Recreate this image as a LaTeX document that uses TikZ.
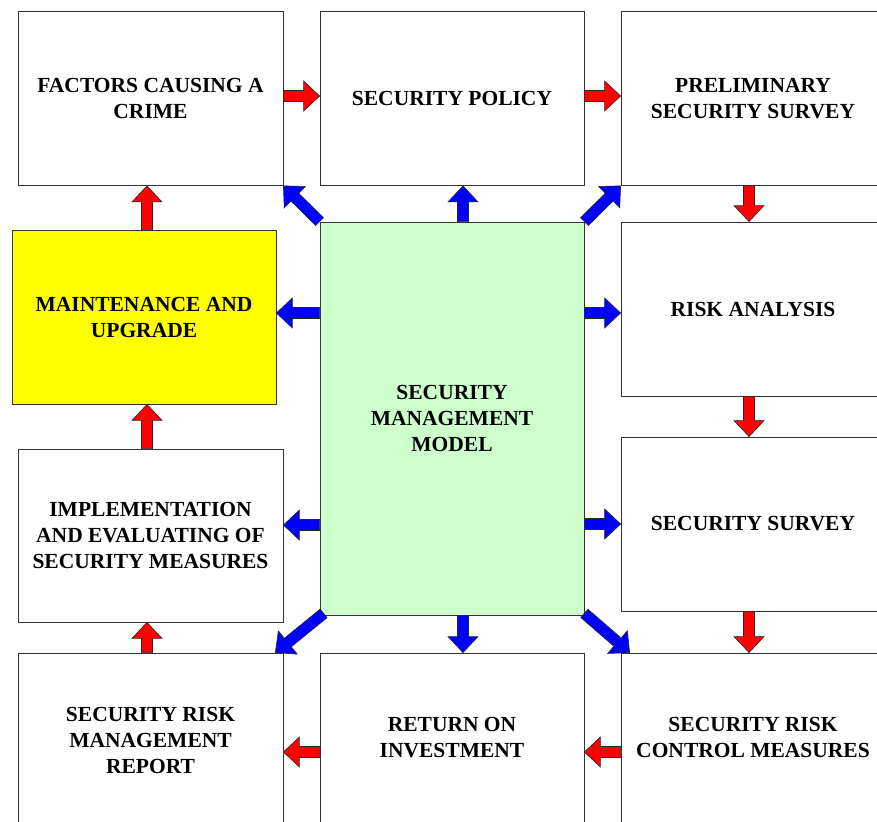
\documentclass[tikz,border=0pt]{standalone}
\usepackage{fontspec}
\setmainfont{Liberation Serif}
\usetikzlibrary{calc}

\definecolor{modelgreen}{HTML}{CCFFCC}
\definecolor{maintyellow}{HTML}{FFFF00}
\definecolor{flowred}{HTML}{FF0000}
\definecolor{linkblue}{HTML}{0000FF}

\tikzset{
  stage/.style={draw=black!80, line width=0.8pt, fill=white, rectangle,
    minimum width=265pt, minimum height=174pt, inner sep=0pt, align=center,
    font=\fontsize{21.5}{26}\selectfont\bfseries},
  blockedge/.style={draw=black!85, line width=0.6pt, line join=miter},
}

% block arrow from coordinate #1 to coordinate #2, filled with #3
\newcommand\blockarrow[3]{%
  \coordinate (ba-h) at ($(#2)!16pt!(#1)$);
  \draw[blockedge, fill=#3]
    ($(#1)!5.5pt!90:(#2)$) -- ($(ba-h)!5.5pt!90:(#2)$) -- ($(ba-h)!15pt!90:(#2)$)
    -- (#2) -- ($(ba-h)!15pt!-90:(#2)$) -- ($(ba-h)!5.5pt!-90:(#2)$)
    -- ($(#1)!5.5pt!-90:(#2)$) -- cycle;
}

\begin{document}
\begin{tikzpicture}[x=1pt, y=1pt]
\useasboundingbox (0,0) rectangle (877,-821);
\clip (0,0) rectangle (877,-821);

% stages
\node[stage] (factors) at (150.5,-98.5) {FACTORS CAUSING A\\CRIME};
\node[stage, minimum width=264pt] (policy) at (452,-98.5) {SECURITY POLICY};
\node[stage, minimum width=264pt] (prelim) at (753,-98.5) {PRELIMINARY\\SECURITY SURVEY};
\node[stage, minimum width=264pt, fill=maintyellow] (maint) at (144,-317) {MAINTENANCE AND\\UPGRADE};
\node[stage, minimum width=264pt, minimum height=393pt, fill=modelgreen] (center) at (452,-418.5) {SECURITY\\MANAGEMENT\\MODEL};
\node[stage, minimum width=264pt] (risk) at (753,-309) {RISK ANALYSIS};
\node[stage, minimum height=173pt] (impl) at (150.5,-535.5) {IMPLEMENTATION\\AND EVALUATING OF\\SECURITY MEASURES};
\node[stage, minimum width=264pt] (survey) at (753,-524) {SECURITY SURVEY};
\node[stage] (report) at (150.5,-740) {SECURITY RISK\\MANAGEMENT\\REPORT};
\node[stage, minimum width=264pt, text depth=5pt] (roi) at (452,-740) {RETURN ON\\INVESTMENT};
\node[stage, minimum width=264pt, text depth=5pt] (control) at (753,-740) {SECURITY RISK\\CONTROL MEASURES};

% end points of the process flow
\coordinate (r1a) at ($(factors.east)+(0,2.5)$); \coordinate (r1b) at (r1a -| policy.west);
\coordinate (r2a) at ($(policy.east)+(0,2.5)$);  \coordinate (r2b) at (r2a -| prelim.west);
\coordinate (r3a) at ($(prelim.south)+(-4,0)$);  \coordinate (r3b) at (r3a |- risk.north);
\coordinate (r4a) at ($(risk.south)+(-4,0)$);    \coordinate (r4b) at (r4a |- survey.north);
\coordinate (r5a) at ($(survey.south)+(-4,0)$);  \coordinate (r5b) at (r5a |- control.north);
\coordinate (r6a) at ($(control.west)+(0,-12)$); \coordinate (r6b) at (r6a -| roi.east);
\coordinate (r7a) at ($(roi.west)+(0,-12)$);     \coordinate (r7b) at (r7a -| report.east);
\coordinate (r8a) at ($(report.north)+(-3.5,0)$); \coordinate (r8b) at (r8a |- impl.south);
\coordinate (r9a) at ($(impl.north)+(-3.5,0)$);  \coordinate (r9b) at (r9a |- maint.south);
\coordinate (r10a) at ($(maint.north)+(3,0)$);   \coordinate (r10b) at (r10a |- factors.south);

% end points of the links from the model
\coordinate (b1a) at ($(center.north)+(11,0)$);  \coordinate (b1b) at (b1a |- policy.south);
\coordinate (b2a) at ($(center.south)+(11,0)$);  \coordinate (b2b) at (b2a |- roi.north);
\coordinate (b3b) at ($(maint.east)+(0,4)$);     \coordinate (b3a) at (b3b -| center.west);
\coordinate (b4b) at ($(risk.west)+(0,-4)$);     \coordinate (b4a) at (b4b -| center.east);
\coordinate (b5b) at ($(impl.east)+(0,10.5)$);   \coordinate (b5a) at (b5b -| center.west);
\coordinate (b6b) at (survey.west);              \coordinate (b6a) at (b6b -| center.east);
\coordinate (b9a) at ($(center.south west)+(4,2)$);
\coordinate (b9b) at ($(report.north east)+(-8,0)$);
\coordinate (b10a) at ($(center.south east)+(0,2)$);
\coordinate (b10b) at ($(control.north west)+(9,0)$);

% process flow
\blockarrow{r1a}{r1b}{flowred}
\blockarrow{r2a}{r2b}{flowred}
\blockarrow{r3a}{r3b}{flowred}
\blockarrow{r4a}{r4b}{flowred}
\blockarrow{r5a}{r5b}{flowred}
\blockarrow{r6a}{r6b}{flowred}
\blockarrow{r7a}{r7b}{flowred}
\blockarrow{r8a}{r8b}{flowred}
\blockarrow{r9a}{r9b}{flowred}
\blockarrow{r10a}{r10b}{flowred}

% links from the model
\blockarrow{b1a}{b1b}{linkblue}
\blockarrow{b2a}{b2b}{linkblue}
\blockarrow{b3a}{b3b}{linkblue}
\blockarrow{b4a}{b4b}{linkblue}
\blockarrow{b5a}{b5b}{linkblue}
\blockarrow{b6a}{b6b}{linkblue}
\blockarrow{center.north west}{factors.south east}{linkblue}
\blockarrow{center.north east}{prelim.south west}{linkblue}
\blockarrow{b9a}{b9b}{linkblue}
\blockarrow{b10a}{b10b}{linkblue}
\end{tikzpicture}
\end{document}
